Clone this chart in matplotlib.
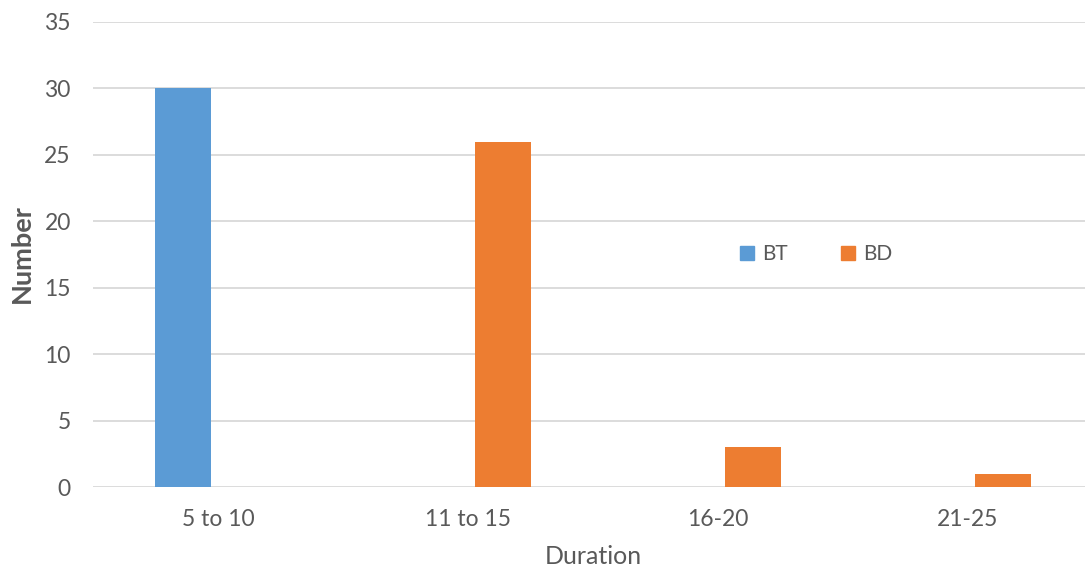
import matplotlib
matplotlib.use("Agg")
import matplotlib.pyplot as plt
import numpy as np
from matplotlib.lines import Line2D

categories = ["5 to 10", "11 to 15", "16-20", "21-25"]
bt_values = [30, 0, 0, 0]
bd_values = [0, 26, 3, 1]
yticks = [0, 5, 10, 15, 20, 25, 30, 35]

BLUE = "#5B9BD5"
ORANGE = "#ED7D31"
GRID = "#D9D9D9"
TXT = "#595959"

plt.rcParams['font.family'] = ['Lato', 'DejaVu Sans']

fig = plt.figure(figsize=(10.85, 5.70), dpi=100)
ax = fig.add_axes([93/1085, 83/570, 1000/1085, 465/570])

x = np.arange(len(categories))
w = 0.224
ax.bar(x - 0.14, bt_values, width=w, color=BLUE, zorder=3)
ax.bar(x + 0.14, bd_values, width=w, color=ORANGE, zorder=3)

ax.set_xlim(-0.5, 3.5)
ax.set_ylim(0, 35)
ax.set_yticks(yticks)
ax.set_xticks(x)
ax.set_xticklabels(categories)
ax.yaxis.grid(True, color=GRID, linewidth=1.3, zorder=0)
ax.set_axisbelow(True)
for s in ax.spines.values():
    s.set_visible(False)
ax.tick_params(axis='both', length=0, labelsize=16.5, labelcolor=TXT)
ax.tick_params(axis='y', pad=16)
ax.tick_params(axis='x', pad=16)

ax.set_ylabel("Number", fontsize=19.5, fontweight='bold', color=TXT)
ax.set_xlabel("Duration", fontsize=18, color=TXT)
ax.yaxis.label.set_va('center')
ax.yaxis.label.set_ha('center')
ax.xaxis.label.set_va('center')
ax.yaxis.set_label_coords(-71/1000, 0.5 + (255 - 254.5) / 465)
ax.xaxis.set_label_coords(0.5, -(557 - 487) / 465)

handles = [Line2D([], [], marker='s', linestyle='none', markersize=9.5, color=BLUE),
           Line2D([], [], marker='s', linestyle='none', markersize=9.5, color=ORANGE)]
leg = ax.legend(handles, ["BT", "BD"], loc='center', bbox_to_anchor=(0.723, 0.5),
                ncol=2, frameon=False, fontsize=15, handlelength=0.7,
                handletextpad=0.4, columnspacing=2.5)
for t in leg.get_texts():
    t.set_color(TXT)

fig.savefig("out.png", dpi=100)
